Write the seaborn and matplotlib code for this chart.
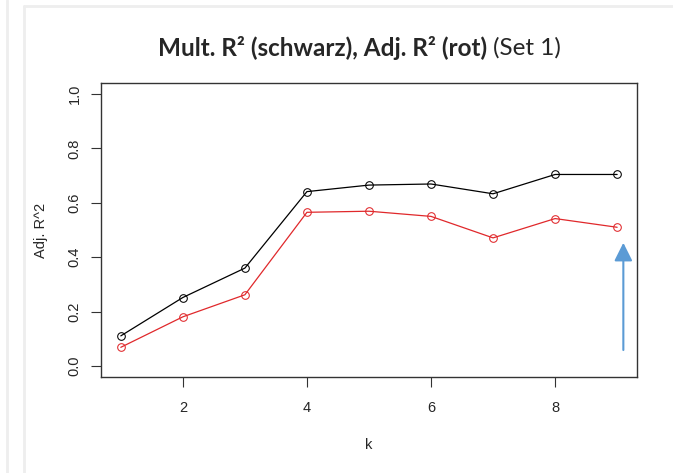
import numpy as np
import pandas as pd
import seaborn as sns
import matplotlib.pyplot as plt
from matplotlib.lines import Line2D

plt.switch_backend("Agg")

k = [1, 2, 3, 4, 5, 6, 7, 8, 9]
mult_r2 = [0.111, 0.252, 0.360, 0.641, 0.665, 0.669, 0.633, 0.704, 0.704]
adj_r2 = [0.069, 0.181, 0.262, 0.565, 0.569, 0.550, 0.471, 0.542, 0.510]

df = pd.DataFrame({"k": k, "mult": mult_r2, "adj": adj_r2})

sns.set_style("white")
plt.rcParams["font.family"] = ["Liberation Sans", "DejaVu Sans"]

fig = plt.figure(figsize=(6.73, 4.73), dpi=100)
ax = fig.add_axes([0.150, 0.203, 0.7965, 0.6215])

sns.lineplot(data=df, x="k", y="mult", ax=ax, color="black", lw=0.9,
             marker="o", markersize=5.5, markerfacecolor="none",
             markeredgecolor="black", markeredgewidth=0.75)
sns.lineplot(data=df, x="k", y="adj", ax=ax, color="#e0282b", lw=0.9,
             marker="o", markersize=5.5, markerfacecolor="none",
             markeredgecolor="#e0282b", markeredgewidth=0.75)

ax.set_xlim(0.68, 9.32)
ax.set_ylim(-0.04, 1.04)
ax.set_xticks([2, 4, 6, 8])
ax.set_yticks([0.0, 0.2, 0.4, 0.6, 0.8, 1.0])
ax.set_yticklabels(["0.0", "0.2", "0.4", "0.6", "0.8", "1.0"], rotation=90, va="center")
ax.tick_params(axis="both", direction="out", length=7, width=0.8, color="#333333",
               labelsize=10.5, bottom=True, left=True)
ax.tick_params(axis="x", pad=10)
ax.tick_params(axis="y", pad=7)
for s in ax.spines.values():
    s.set_color("#333333")
    s.set_linewidth(1.0)

ax.set_xlabel("k", fontsize=10.5, labelpad=17)
ax.set_ylabel("Adj. R^2", fontsize=10.5, labelpad=14)

# blue arrow marking k = 9
ax.annotate("", xy=(9.1, 0.453), xytext=(9.1, 0.059),
            arrowprops=dict(arrowstyle="-|>,head_length=1.1,head_width=0.55",
                            color="#5b9bd5", lw=1.5, shrinkA=0, shrinkB=0))

# title: bold part + regular part
fig.text(0.7236, 0.8985, "Mult. R\u00b2 (schwarz), Adj. R\u00b2 (rot)", ha="right",
         va="center", fontsize=17.5, fontweight="bold", family=["Lato", "DejaVu Sans"])
fig.text(0.733, 0.8985, "(Set 1)", ha="left", va="center", fontsize=17.5,
         family=["Lato", "DejaVu Sans"])

# light frame lines of the slide
gray = "#eeeeee"
fig.add_artist(Line2D([7 / 673, 7 / 673], [0, 1], color=gray, lw=2))
fig.add_artist(Line2D([24 / 673, 24 / 673], [0, 1 - 6 / 473], color=gray, lw=2))
fig.add_artist(Line2D([24 / 673, 1], [1 - 6 / 473, 1 - 6 / 473], color=gray, lw=2))

fig.savefig("out.png", dpi=100)
